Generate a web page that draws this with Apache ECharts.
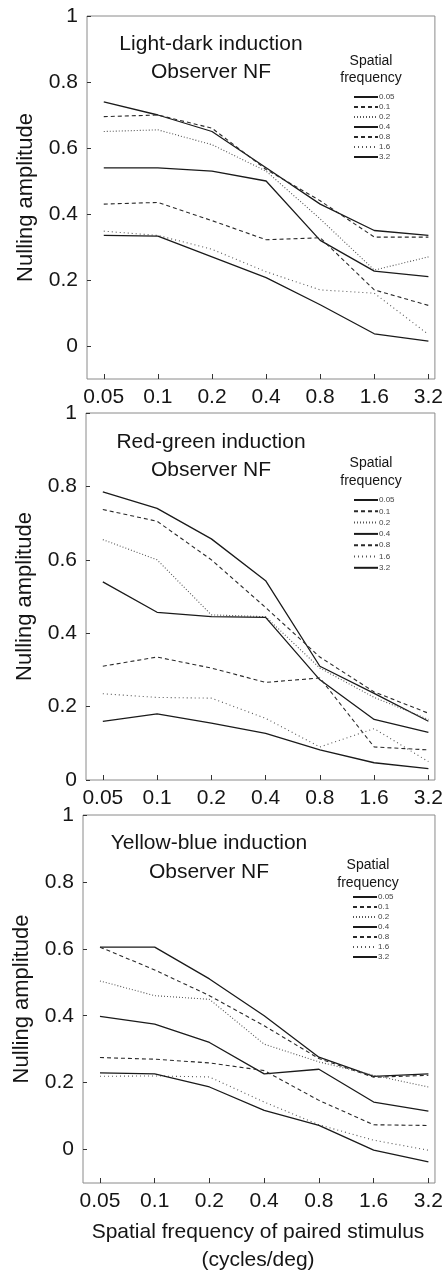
<!DOCTYPE html>
<html>
<head>
<meta charset="utf-8">
<script src="https://cdn.jsdelivr.net/npm/echarts@6/dist/echarts.min.js"></script>
<style>
  html, body { margin: 0; padding: 0; background: #fff; }
  #chart { width: 446px; height: 1274px; }
</style>
</head>
<body>
<div id="chart"></div>
<script>
// Spatial frequency of the paired stimulus (cycles/deg), equally spaced on a log scale
const freqLabels = ['0.05', '0.1', '0.2', '0.4', '0.8', '1.6', '3.2'];
// Inducing spatial frequency for each curve (legend entries)
const seriesNames = ['0.05', '0.1', '0.2', '0.4', '0.8', '1.6', '3.2'];
const yTicks = [0, 0.2, 0.4, 0.6, 0.8, 1];

// Light-dark induction, one row per inducing frequency (0.05 ... 3.2)
const lightDark = [
  [0.74, 0.70, 0.65, 0.54, 0.43, 0.35, 0.335],
  [0.695, 0.70, 0.66, 0.535, 0.44, 0.33, 0.33],
  [0.65, 0.655, 0.61, 0.53, 0.385, 0.23, 0.27],
  [0.54, 0.54, 0.53, 0.50, 0.32, 0.227, 0.21],
  [0.43, 0.435, 0.38, 0.322, 0.328, 0.17, 0.123],
  [0.348, 0.335, 0.293, 0.225, 0.17, 0.16, 0.035],
  [0.335, 0.333, 0.27, 0.207, 0.125, 0.037, 0.015]
];

// Red-green induction
const redGreen = [
  [0.785, 0.74, 0.657, 0.543, 0.31, 0.236, 0.16],
  [0.737, 0.705, 0.60, 0.47, 0.335, 0.24, 0.182],
  [0.655, 0.60, 0.45, 0.445, 0.305, 0.225, 0.165],
  [0.54, 0.457, 0.445, 0.443, 0.273, 0.165, 0.13],
  [0.31, 0.335, 0.305, 0.266, 0.278, 0.09, 0.082],
  [0.235, 0.225, 0.223, 0.168, 0.09, 0.14, 0.05],
  [0.16, 0.18, 0.155, 0.127, 0.082, 0.047, 0.031]
];

// Yellow-blue induction
const yellowBlue = [
  [0.605, 0.605, 0.51, 0.40, 0.276, 0.219, 0.226],
  [0.605, 0.537, 0.46, 0.37, 0.272, 0.216, 0.222],
  [0.504, 0.46, 0.449, 0.315, 0.262, 0.222, 0.187],
  [0.398, 0.375, 0.32, 0.226, 0.24, 0.142, 0.115],
  [0.275, 0.27, 0.259, 0.236, 0.147, 0.074, 0.072],
  [0.219, 0.22, 0.217, 0.142, 0.074, 0.028, -0.002],
  [0.229, 0.226, 0.187, 0.117, 0.072, -0.002, -0.037]
];

const panelTitles = [
  ['Light-dark induction', 'Observer NF'],
  ['Red-green induction', 'Observer NF'],
  ['Yellow-blue induction', 'Observer NF']
];

const FONT = '"Liberation Sans", Arial, Helvetica, sans-serif';
const INK = '#151515';

// line dash per inducing frequency: solid, dashed, dotted, repeating
const dashes = ['solid', [4, 3], [1, 2], 'solid', [4, 3], [1, 3], 'solid'];
const widths = [1.3, 1.1, 1.1, 1.3, 1.1, 1.1, 1.3];
const colors = ['#1a1a1a', '#2a2a2a', '#555', '#1a1a1a', '#2a2a2a', '#555', '#1a1a1a'];

const panels = [
  { data: lightDark, grid: { left: 87, top: 16, width: 350, height: 363 }, yMin: -0.1,
    title: [211, 44, 72], head: [371, 61, 78], legend: { left: 353, top: 93, gap: 2 } },
  { data: redGreen, grid: { left: 86, top: 413, width: 353, height: 367 }, yMin: 0,
    title: [211, 442, 470], head: [371, 463, 481], legend: { left: 353, top: 496, gap: 3.3 } },
  { data: yellowBlue, grid: { left: 83, top: 815, width: 354, height: 368 }, yMin: -0.1,
    title: [209, 843, 872], head: [368, 865, 883], legend: { left: 352, top: 893, gap: 2 } }
];

const grids = [], xAxes = [], yAxes = [], series = [], legends = [], graphics = [];

panels.forEach((p, k) => {
  grids.push(Object.assign({ show: true, borderColor: '#8a8a8a', borderWidth: 1,
    backgroundColor: 'transparent' }, p.grid));

  xAxes.push({
    type: 'value', gridIndex: k, min: -0.31, max: 6.12,
    axisLine: { show: false, onZero: false },
    splitLine: { show: false },
    axisTick: { show: true, inside: true, length: 5, customValues: [0, 1, 2, 3, 4, 5, 6],
      lineStyle: { color: '#333', width: 1 } },
    axisLabel: { customValues: [0, 1, 2, 3, 4, 5, 6], margin: 8,
      formatter: v => freqLabels[Math.round(v)],
      fontFamily: FONT, fontSize: 21, color: INK }
  });

  yAxes.push({
    type: 'value', gridIndex: k, min: p.yMin, max: 1,
    name: 'Nulling amplitude', nameLocation: 'middle', nameGap: 50,
    nameTextStyle: { fontFamily: FONT, fontSize: 22, color: INK },
    axisLine: { show: false, onZero: false },
    splitLine: { show: false },
    axisTick: { show: true, inside: true, length: 4, customValues: yTicks,
      lineStyle: { color: '#333', width: 1 } },
    axisLabel: { customValues: yTicks, margin: 9,
      formatter: v => String(+(+v).toFixed(1)),
      fontFamily: FONT, fontSize: 21, color: INK }
  });

  p.data.forEach((row, i) => {
    series.push({
      type: 'line', name: seriesNames[i], xAxisIndex: k, yAxisIndex: k,
      symbol: 'none', showSymbol: false, silent: true, animation: false,
      lineStyle: { color: colors[i], width: widths[i], type: dashes[i] },
      itemStyle: { color: colors[i] },
      data: row.map((v, j) => [j, v])
    });
  });

  legends.push({
    orient: 'vertical', left: p.legend.left, top: p.legend.top,
    itemWidth: 24, itemHeight: 8, itemGap: p.legend.gap, padding: 0,
    selectedMode: false,
    itemStyle: { opacity: 0, borderWidth: 0 },
    data: seriesNames,
    textStyle: { fontFamily: FONT, fontSize: 8, lineHeight: 8, color: '#444', padding: [0, 0, 0, -4] }
  });

  const [tx, ty1, ty2] = p.title;
  graphics.push(
    { type: 'text', x: tx, y: ty1, style: { text: panelTitles[k][0], font: '21px ' + FONT,
      fill: INK, textAlign: 'center', textVerticalAlign: 'middle' } },
    { type: 'text', x: tx, y: ty2, style: { text: panelTitles[k][1], font: '21px ' + FONT,
      fill: INK, textAlign: 'center', textVerticalAlign: 'middle' } }
  );
  const [hx, hy1, hy2] = p.head;
  graphics.push(
    { type: 'text', x: hx, y: hy1, style: { text: 'Spatial', font: '14px ' + FONT,
      fill: INK, textAlign: 'center', textVerticalAlign: 'middle' } },
    { type: 'text', x: hx, y: hy2, style: { text: 'frequency', font: '14px ' + FONT,
      fill: INK, textAlign: 'center', textVerticalAlign: 'middle' } }
  );
});

graphics.push(
  { type: 'text', x: 258, y: 1232, style: { text: 'Spatial frequency of paired stimulus',
    font: '21px ' + FONT, fill: INK, textAlign: 'center', textVerticalAlign: 'middle' } },
  { type: 'text', x: 258, y: 1260, style: { text: '(cycles/deg)',
    font: '21px ' + FONT, fill: INK, textAlign: 'center', textVerticalAlign: 'middle' } }
);

const chart = echarts.init(document.getElementById('chart'), null, { renderer: 'canvas' });
chart.setOption({
  animation: false,
  backgroundColor: '#fff',
  grid: grids,
  xAxis: xAxes,
  yAxis: yAxes,
  legend: legends,
  graphic: graphics,
  series: series
});
</script>
</body>
</html>
